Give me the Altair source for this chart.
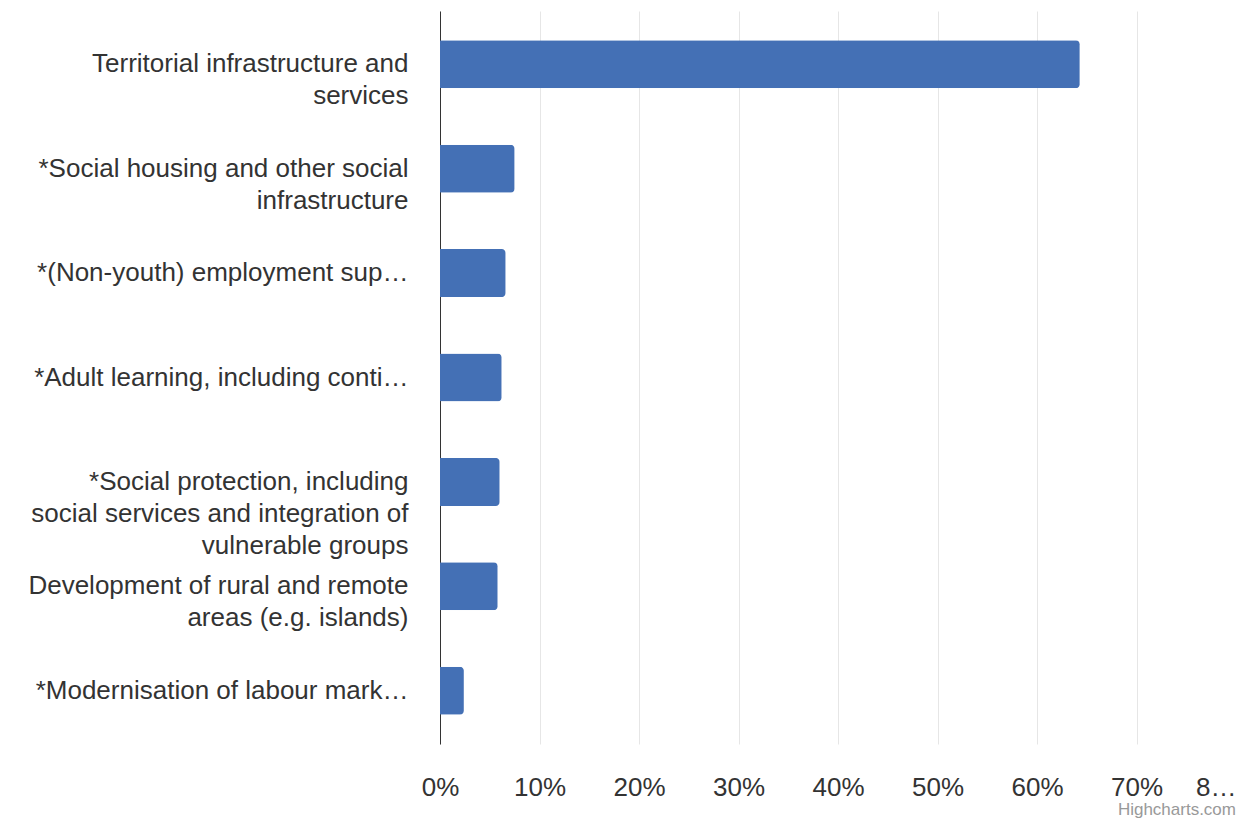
import altair as alt
import pandas as pd

categories = [
    "Territorial infrastructure and|services",
    "*Social housing and other social|infrastructure",
    "*(Non-youth) employment sup…",
    "*Adult learning, including conti…",
    "*Social protection, including|social services and integration of|vulnerable groups",
    "Development of rural and remote|areas (e.g. islands)",
    "*Modernisation of labour mark…",
]
values = [64.3, 7.5, 6.6, 6.2, 6.0, 5.8, 2.4]
x_ticks = [0, 10, 20, 30, 40, 50, 60, 70, 80]
credit = ["Highcharts.com"]

df = pd.DataFrame({"category": categories, "share": values})

FONT = "Liberation Sans"
PLOT_W = 796
PLOT_H = 733

bars = alt.Chart(df).mark_bar(color="#4470b5", cornerRadiusEnd=4, size=48).encode(
    x=alt.X(
        "share:Q",
        scale=alt.Scale(domain=[0, 80], nice=False),
        axis=alt.Axis(
            values=x_ticks,
            title=None,
            grid=True,
            gridColor="#e6e6e6",
            gridWidth=1,
            domain=False,
            ticks=False,
            labelFontSize=26,
            labelFont=FONT,
            labelColor="#333333",
            labelPadding=30,
            labelExpr="datum.value == 80 ? '8…' : datum.value + '%'",
            labelAlign=alt.expr("datum.value == 80 ? 'right' : 'center'"),
            labelFlush=False,
            labelOverlap=False,
        ),
    ),
    y=alt.Y(
        "category:N",
        sort=categories,
        scale=alt.Scale(paddingInner=0.5, paddingOuter=0.26),
        axis=alt.Axis(
            title=None,
            domain=True,
            domainColor="#333333",
            domainWidth=1,
            ticks=False,
            grid=False,
            labelFontSize=26,
            labelFont=FONT,
            labelColor="#333333",
            labelPadding=32,
            labelAlign="right",
            labelLimit=0,
            labelLineHeight=32,
            labelExpr="split(datum.label, '|')",
        ),
    ),
)

credit_df = pd.DataFrame({"t": credit})
credit_text = alt.Chart(credit_df).mark_text(
    align="right", baseline="alphabetic", fontSize=17, font=FONT, color="#999999"
).encode(x=alt.value(PLOT_W), y=alt.value(PLOT_H + 71), text="t:N")

chart = (
    alt.layer(bars, credit_text)
    .properties(
        width=PLOT_W,
        height=PLOT_H,
        padding={"left": 432, "top": 3, "right": 0, "bottom": 75},
        autosize=alt.AutoSizeParams(type="none"),
        background="white",
    )
    .configure_view(strokeWidth=0)
)

chart.save("out.html", embed_options={"renderer": "svg", "actions": False})
